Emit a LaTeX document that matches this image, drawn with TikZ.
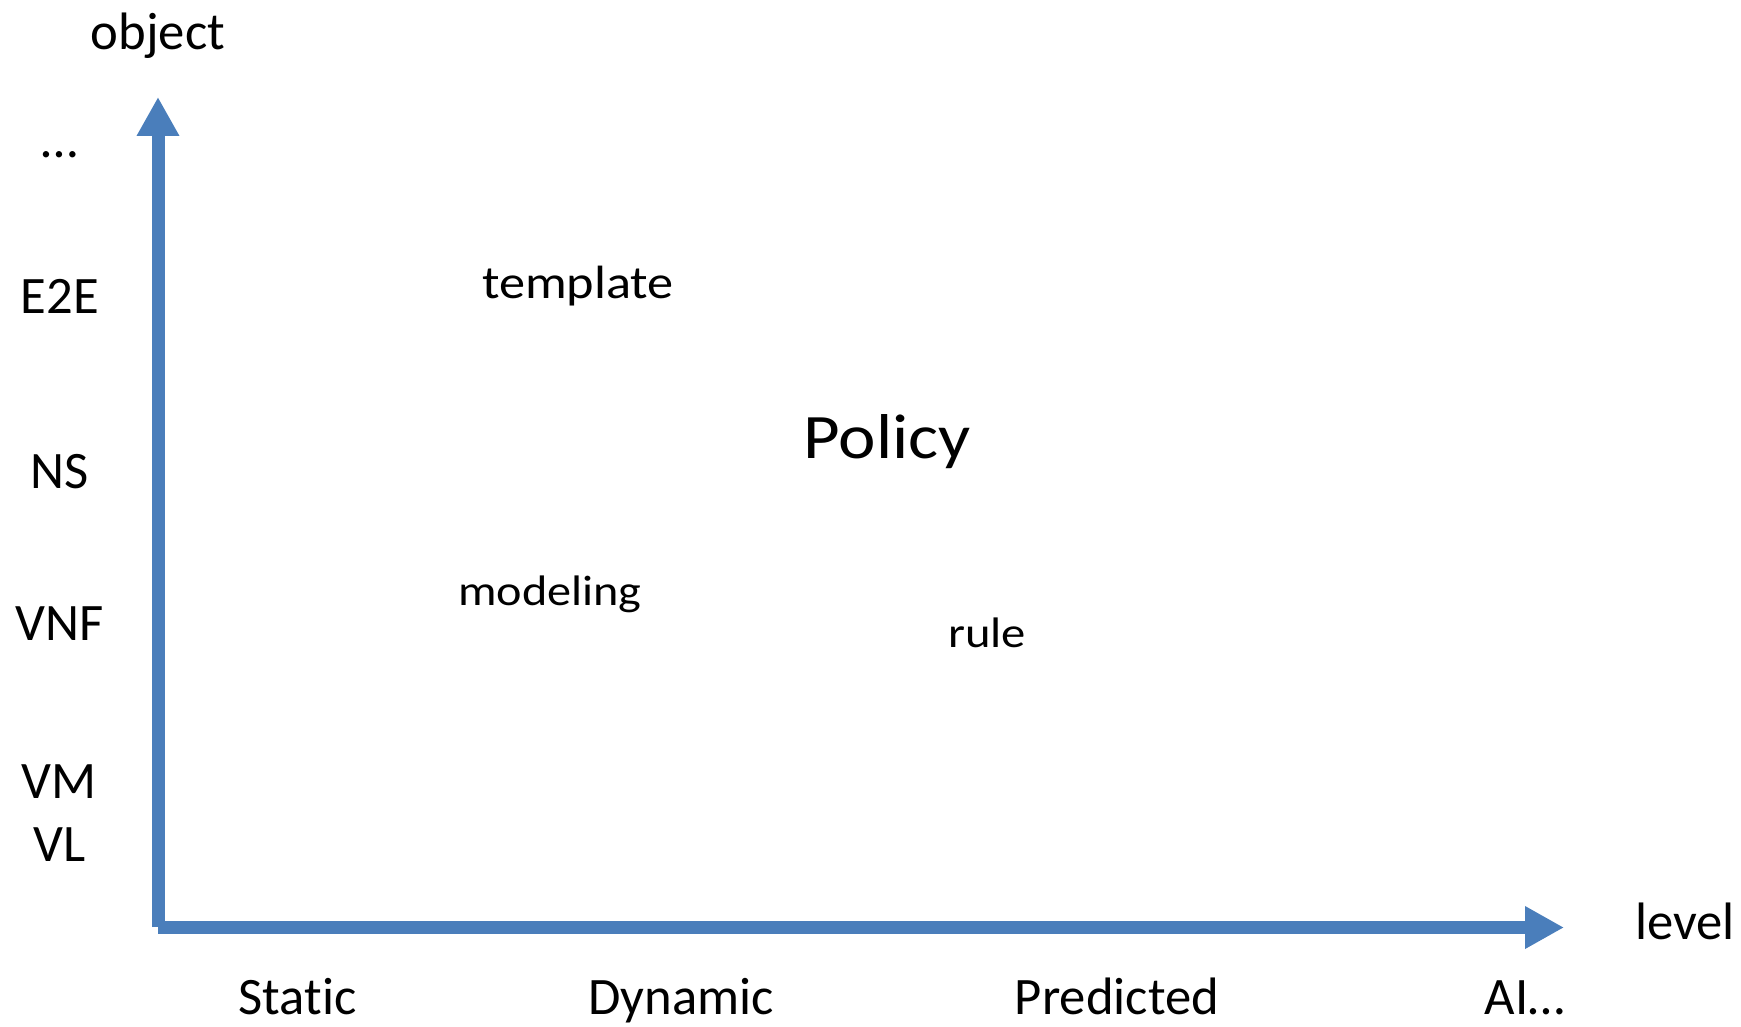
\documentclass[tikz,border=0pt]{standalone}
\usepackage{fontspec}
\setmainfont{Carlito}[Ligatures=NoCommon]
\usetikzlibrary{arrows.meta}
\definecolor{axisblue}{HTML}{4A7EBB}
\newcommand{\stretchtext}[2]{\scalebox{#1}[1]{#2}}
\begin{document}
\begin{tikzpicture}[x=0.75pt,y=-0.75pt,
  big/.style={inner sep=0pt,anchor=base,font=\fontsize{39.5}{40}\selectfont},
  tmpl/.style={inner sep=0pt,anchor=base,font=\fontsize{35}{36}\selectfont},
  mid/.style={inner sep=0pt,anchor=base,font=\fontsize{32}{34}\selectfont},
  huge/.style={inner sep=0pt,anchor=base,font=\fontsize{47.5}{48}\selectfont},
  axisline/.style={draw=axisblue,line width=9.75pt},
  axisarrow/.style={axisline,-{Triangle[length=29.25pt,width=30pt]}}]
\useasboundingbox (0,0) rectangle (1741,1027);
\coordinate (origin) at (158,927);
\coordinate (xorigin) at (158,927.5);
\coordinate (ytop) at (158,97);
\coordinate (xend) at (1564,927.5);
\draw[axisarrow] (origin) -- (ytop);
\draw[axisarrow] (xorigin) -- (xend);
\node[big] (object) at (158,50) {object};
\node[big] (dots) at (60,158) {…};
\node[big] (e2e) at (60,313) {E2E};
\node[big] (ns) at (60,488) {NS};
\node[big] (vnf) at (60,640) {VNF};
\node[big] (vm) at (59,798) {VM};
\node[big] (vl) at (60,861) {VL};
\node[big] (level) at (1685,939) {level};
\node[big] (static) at (297.5,1014) {Static};
\node[big] (dynamic) at (681,1014) {Dynamic};
\node[big] (predicted) at (1117,1014) {Predicted};
\node[big] (ai) at (1525,1014) {AI…};
\node[tmpl] (template) at (578,298) {\stretchtext{1.12}{template}};
\node[mid] (modeling) at (550,605) {\stretchtext{1.13}{modeling}};
\node[mid] (rule) at (987,647) {\stretchtext{1.14}{rule}};
\node[huge] (policy) at (887,458) {\stretchtext{1.12}{Policy}};
\end{tikzpicture}
\end{document}
